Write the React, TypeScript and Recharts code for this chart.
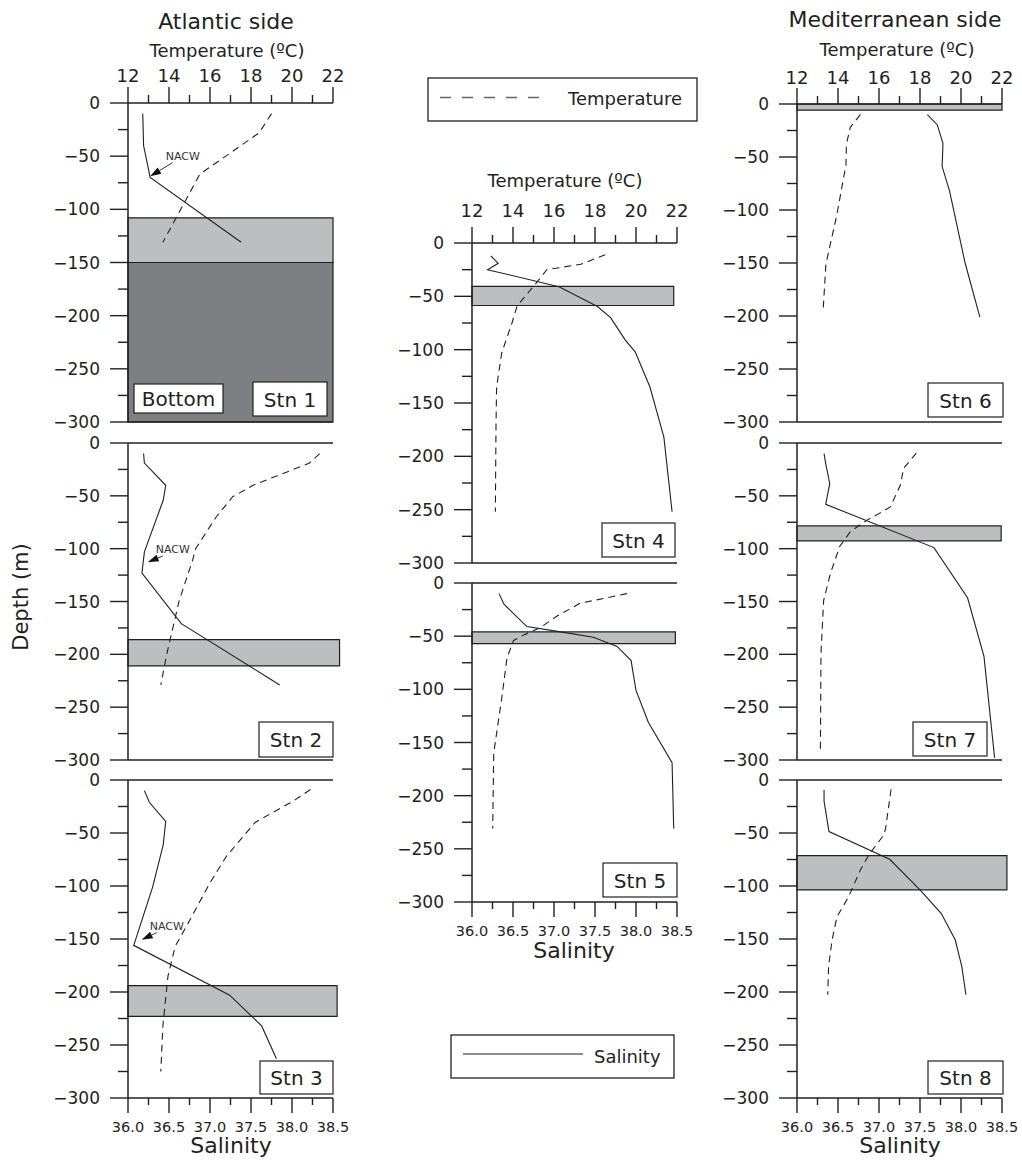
import React from 'react';
import { ScatterChart, Scatter, XAxis, YAxis, ReferenceArea, ReferenceLine } from 'recharts';

const FONT = '"DejaVu Sans", Arial, sans-serif';
const INK = '#231f20';
const LIGHT = '#bdbec0';
const DARK = '#7e7f82';

const DEPTH_TICKS = [0, -25, -50, -75, -100, -125, -150, -175, -200, -225, -250, -275, -300];
const TEMP_TICKS = [12, 13, 14, 15, 16, 17, 18, 19, 20, 21, 22];
const SAL_TICKS = [36, 36.25, 36.5, 36.75, 37, 37.25, 37.5, 37.75, 38, 38.25, 38.5];

// Atlantic side
const STN1_TEMP = [{ t: 19.0, d: -10 }, { t: 18.4, d: -28 }, { t: 15.5, d: -67 }, { t: 13.7, d: -131 }];
const STN1_SAL = [{ s: 36.18, d: -10 }, { s: 36.19, d: -40 }, { s: 36.27, d: -70 }, { s: 37.38, d: -131 }];
const STN1_BANDS = [
  { top: -108, bottom: -150, right: 38.5, tone: 'light' },
  { top: -150, bottom: -300, right: 38.5, tone: 'dark' },
];
const STN1_NACW = { from: { s: 36.545, d: -56 }, to: { s: 36.27, d: -69 } };

const STN2_TEMP = [
  { t: 21.35, d: -10 }, { t: 20.85, d: -19 }, { t: 18.1, d: -40 }, { t: 17.1, d: -51 }, { t: 16.3, d: -70 },
  { t: 15.3, d: -100 }, { t: 15.15, d: -111 }, { t: 14.5, d: -149 }, { t: 13.9, d: -199 }, { t: 13.6, d: -229 },
];
const STN2_SAL = [
  { s: 36.19, d: -10 }, { s: 36.2, d: -19 }, { s: 36.46, d: -40 }, { s: 36.43, d: -54 }, { s: 36.2, d: -103 },
  { s: 36.17, d: -123 }, { s: 36.65, d: -171 }, { s: 37.85, d: -229 },
];
const STN2_BANDS = [{ top: -186, bottom: -211, right: 38.58, tone: 'light' }];
const STN2_NACW = { from: { s: 36.423, d: -107 }, to: { s: 36.24, d: -112.8 } };

const STN3_TEMP = [
  { t: 20.9, d: -9 }, { t: 20.05, d: -20 }, { t: 18.2, d: -40 }, { t: 16.8, d: -72 }, { t: 16.0, d: -97 },
  { t: 14.85, d: -138 }, { t: 14.3, d: -157 }, { t: 13.95, d: -185 }, { t: 13.7, d: -232 }, { t: 13.6, d: -275 },
];
const STN3_SAL = [
  { s: 36.2, d: -10 }, { s: 36.26, d: -21 }, { s: 36.46, d: -39 }, { s: 36.43, d: -61 }, { s: 36.3, d: -101 },
  { s: 36.07, d: -156 }, { s: 37.24, d: -203 }, { s: 37.63, d: -232 }, { s: 37.81, d: -263 },
];
const STN3_BANDS = [{ top: -194, bottom: -223, right: 38.55, tone: 'light' }];
const STN3_NACW = { from: { s: 36.35, d: -144 }, to: { s: 36.167, d: -150.8 } };

// Strait
const STN4_TEMP = [
  { t: 18.5, d: -11 }, { t: 17.3, d: -20 }, { t: 15.65, d: -25 }, { t: 15.2, d: -36 }, { t: 14.2, d: -59 },
  { t: 13.95, d: -75 }, { t: 13.45, d: -103 }, { t: 13.2, d: -135 }, { t: 13.17, d: -172 }, { t: 13.14, d: -252 },
];
const STN4_SAL = [
  { s: 36.23, d: -12 }, { s: 36.32, d: -19 }, { s: 36.19, d: -25 }, { s: 37.06, d: -41 }, { s: 37.53, d: -59.5 },
  { s: 37.69, d: -70 }, { s: 37.87, d: -91 }, { s: 37.99, d: -102 }, { s: 38.17, d: -135 }, { s: 38.34, d: -182 },
  { s: 38.44, d: -252 },
];
const STN4_BANDS = [{ top: -40.7, bottom: -58.6, right: 38.46, tone: 'light' }];

const STN5_TEMP = [
  { t: 19.56, d: -10 }, { t: 17.28, d: -19 }, { t: 16.15, d: -31 }, { t: 15.33, d: -42 }, { t: 14.52, d: -49 },
  { t: 14.03, d: -54 }, { t: 13.71, d: -70 }, { t: 13.46, d: -107 }, { t: 13.06, d: -160 }, { t: 13.01, d: -231 },
];
const STN5_SAL = [
  { s: 36.33, d: -10 }, { s: 36.39, d: -20 }, { s: 36.67, d: -41 }, { s: 37.08, d: -46 }, { s: 37.48, d: -51 },
  { s: 37.77, d: -59.6 }, { s: 37.94, d: -73 }, { s: 38.0, d: -101 }, { s: 38.15, d: -131 }, { s: 38.44, d: -169 },
  { s: 38.46, d: -231 },
];
const STN5_BANDS = [{ top: -46, bottom: -57, right: 38.48, tone: 'light' }];

// Mediterranean side
const STN6_TEMP = [
  { t: 15.09, d: -10 }, { t: 14.6, d: -22 }, { t: 14.41, d: -38 }, { t: 14.39, d: -57 }, { t: 13.95, d: -104 },
  { t: 13.41, d: -151 }, { t: 13.27, d: -196 },
];
const STN6_SAL = [
  { s: 37.59, d: -10 }, { s: 37.71, d: -19.5 }, { s: 37.78, d: -37 }, { s: 37.77, d: -59 }, { s: 37.86, d: -82 },
  { s: 38.05, d: -150 }, { s: 38.23, d: -201 },
];
const STN6_BANDS = [{ top: 0, bottom: -5.7, right: 38.5, tone: 'light' }];

const STN7_TEMP = [
  { t: 17.82, d: -9.5 }, { t: 17.2, d: -24 }, { t: 17.04, d: -40 }, { t: 16.55, d: -60.5 }, { t: 15.9, d: -68 },
  { t: 15.41, d: -73 }, { t: 14.6, d: -84 }, { t: 14.08, d: -98 }, { t: 13.63, d: -123.5 }, { t: 13.3, d: -149 },
  { t: 13.17, d: -199 }, { t: 13.14, d: -294 },
];
const STN7_SAL = [
  { s: 36.33, d: -10 }, { s: 36.35, d: -19.5 }, { s: 36.4, d: -38.5 }, { s: 36.38, d: -46 }, { s: 36.35, d: -58 },
  { s: 37.67, d: -99 }, { s: 38.08, d: -146.5 }, { s: 38.28, d: -202 }, { s: 38.41, d: -298 },
];
const STN7_BANDS = [{ top: -78.5, bottom: -92.7, right: 38.49, tone: 'light' }];

const STN8_TEMP = [
  { t: 16.59, d: -8.8 }, { t: 16.31, d: -47 }, { t: 16.15, d: -54 }, { t: 15.5, d: -70.7 }, { t: 15.09, d: -85 },
  { t: 14.52, d: -110 }, { t: 13.95, d: -129 }, { t: 13.71, d: -151 }, { t: 13.54, d: -176 }, { t: 13.5, d: -202.6 },
];
const STN8_SAL = [
  { s: 36.33, d: -9.4 }, { s: 36.33, d: -20 }, { s: 36.39, d: -48.7 }, { s: 37.13, d: -74.8 }, { s: 37.5, d: -103.7 },
  { s: 37.76, d: -126 }, { s: 37.93, d: -151 }, { s: 38.01, d: -176 }, { s: 38.06, d: -202.6 },
];
const STN8_BANDS = [{ top: -71.3, bottom: -103.7, right: 38.56, tone: 'light' }];

const PLOT_W = 205;

// layout of the eight panels (page pixels)
const PANELS = [
  { name: 'Stn 1', left: 128, top: 103, h: 319, temp: STN1_TEMP, sal: STN1_SAL, bands: STN1_BANDS, nacw: STN1_NACW, showTemp: true, tempGap: 21, box: { x: 253, y: 382, w: 74, h: 34 } },
  { name: 'Stn 2', left: 128, top: 443, h: 317, temp: STN2_TEMP, sal: STN2_SAL, bands: STN2_BANDS, nacw: STN2_NACW, box: { x: 259, y: 722, w: 74, h: 35 } },
  { name: 'Stn 3', left: 128, top: 780, h: 318, temp: STN3_TEMP, sal: STN3_SAL, bands: STN3_BANDS, nacw: STN3_NACW, showSal: true, box: { x: 260, y: 1061, w: 73, h: 33 } },
  { name: 'Stn 4', left: 472, top: 243, h: 320, temp: STN4_TEMP, sal: STN4_SAL, bands: STN4_BANDS, showTemp: true, tempGap: 26, box: { x: 602, y: 523, w: 73, h: 34 } },
  { name: 'Stn 5', left: 472, top: 583, h: 319, temp: STN5_TEMP, sal: STN5_SAL, bands: STN5_BANDS, showSal: true, box: { x: 603, y: 863, w: 74, h: 34 } },
  { name: 'Stn 6', left: 797, top: 104, h: 318, temp: STN6_TEMP, sal: STN6_SAL, bands: STN6_BANDS, showTemp: true, tempGap: 20, box: { x: 928, y: 383, w: 75, h: 34 } },
  { name: 'Stn 7', left: 797, top: 443, h: 317, temp: STN7_TEMP, sal: STN7_SAL, bands: STN7_BANDS, box: { x: 913, y: 722, w: 74, h: 34 } },
  { name: 'Stn 8', left: 797, top: 780, h: 318, temp: STN8_TEMP, sal: STN8_SAL, bands: STN8_BANDS, showSal: true, box: { x: 928, y: 1061, w: 75, h: 33 } },
];

const fmtDepth = (v: number) => (v === 0 ? '0' : '\u2212' + Math.abs(v));

const DepthTick = (p: any) => {
  const { x, y, payload } = p;
  const major = payload.value % 50 === 0;
  return (
    <g>
      <line x1={x - (major ? 18 : 10)} x2={x} y1={y} y2={y} stroke={INK} strokeWidth={1.4} />
      {major && (
        <text x={x - 28} y={y + 6} textAnchor="end" fontSize={17} fontFamily={FONT} fill={INK}>
          {fmtDepth(payload.value)}
        </text>
      )}
    </g>
  );
};

const makeTempTick = (gap: number) => (p: any) => {
  const { x, y, payload } = p;
  const major = payload.value % 2 === 0;
  return (
    <g>
      <line x1={x} x2={x} y1={y - (major ? 16 : 8)} y2={y} stroke={INK} strokeWidth={1.4} />
      {major && (
        <text x={x} y={y - gap} textAnchor="middle" fontSize={18} fontFamily={FONT} fill={INK}>
          {payload.value}
        </text>
      )}
    </g>
  );
};

const SalTick = (p: any) => {
  const { x, y, payload } = p;
  const v = payload.value;
  const major = Math.abs(v * 2 - Math.round(v * 2)) < 1e-6;
  return (
    <g>
      <line x1={x} x2={x} y1={y} y2={y + (major ? 15 : 7)} stroke={INK} strokeWidth={1.4} />
      {major && (
        <text x={x} y={y + 34} textAnchor="middle" fontSize={14.5} fontFamily={FONT} fill={INK}>
          {v.toFixed(1)}
        </text>
      )}
    </g>
  );
};

const NacwArrow = (p: any) => {
  const { x1, y1, x2, y2 } = p;
  const ang = Math.atan2(y2 - y1, x2 - x1);
  const L = 11;
  const W = 3.6;
  const bx = x2 - L * Math.cos(ang);
  const by = y2 - L * Math.sin(ang);
  const px = -Math.sin(ang) * W;
  const py = Math.cos(ang) * W;
  return (
    <g>
      <line x1={x1} y1={y1} x2={bx} y2={by} stroke="#333" strokeWidth={1} />
      <polygon points={`${x2},${y2} ${bx + px},${by + py} ${bx - px},${by - py}`} fill="#111" />
      <text x={x1 - 7} y={y1 - 3} fontSize={11} fontFamily={FONT} fill="#333">NACW</text>
    </g>
  );
};

const noDot = () => <g />;

const Panel = ({ p }: { p: any }) => {
  const axisLine = { stroke: INK, strokeWidth: 1.5 };
  return (
    <div style={{ position: 'absolute', left: p.left - 80, top: p.top - 60 }}>
      <ScatterChart width={80 + PLOT_W + 25} height={p.h + 120} margin={{ top: 0, right: 25, bottom: 0, left: 0 }}>
        <XAxis
          xAxisId="t" type="number" dataKey="t" orientation="top" domain={[12, 22]} ticks={TEMP_TICKS}
          interval={0} height={60} axisLine={axisLine} tickLine={false} tickSize={0} tickMargin={0}
          tick={p.showTemp ? makeTempTick(p.tempGap) : false}
        />
        <XAxis
          xAxisId="s" type="number" dataKey="s" orientation="bottom" domain={[36, 38.5]} ticks={SAL_TICKS}
          interval={0} height={60} axisLine={axisLine} tickLine={false} tickSize={0} tickMargin={0}
          tick={p.showSal ? SalTick : false}
        />
        <YAxis
          type="number" dataKey="d" domain={[-300, 0]} ticks={DEPTH_TICKS} interval={0} width={80}
          axisLine={axisLine} tickLine={false} tickSize={0} tickMargin={0} tick={DepthTick}
        />
        {p.bands.map((b: any, i: number) => (
          <ReferenceArea
            key={i} xAxisId="s" x1={36} x2={b.right} y1={b.top} y2={b.bottom}
            fill={b.tone === 'dark' ? DARK : LIGHT} fillOpacity={1} stroke={INK} strokeWidth={1.2}
            ifOverflow="visible"
          />
        ))}
        <Scatter
          xAxisId="t" data={p.temp} shape={noDot} isAnimationActive={false}
          line={{ stroke: INK, strokeWidth: 1.1, strokeDasharray: '7 5' }}
        />
        <Scatter
          xAxisId="s" data={p.sal} shape={noDot} isAnimationActive={false}
          line={{ stroke: INK, strokeWidth: 1.1 }}
        />
        {p.nacw && (
          <ReferenceLine
            xAxisId="s"
            segment={[{ x: p.nacw.from.s, y: p.nacw.from.d }, { x: p.nacw.to.s, y: p.nacw.to.d }]}
            shape={NacwArrow}
          />
        )}
      </ScatterChart>
    </div>
  );
};

const txt = { fontFamily: FONT, fill: INK };

const App: React.FC = () => (
  <div style={{ position: 'absolute', left: 0, top: 0, width: 1022, height: 1163, background: '#fff' }}>
    {PANELS.map((p) => (
      <Panel key={p.name} p={p} />
    ))}
    <svg width={1022} height={1163} style={{ position: 'absolute', left: 0, top: 0, pointerEvents: 'none' }}>
      <text x={226} y={29} fontSize={22} textAnchor="middle" {...txt}>Atlantic side</text>
      <text x={895} y={27} fontSize={22} textAnchor="middle" {...txt}>Mediterranean side</text>
      <text x={227} y={57} fontSize={18} textAnchor="middle" {...txt}>Temperature (ºC)</text>
      <text x={565} y={187} fontSize={18} textAnchor="middle" {...txt}>Temperature (ºC)</text>
      <text x={897} y={56} fontSize={18} textAnchor="middle" {...txt}>Temperature (ºC)</text>
      <text x={231} y={1153} fontSize={22} textAnchor="middle" {...txt}>Salinity</text>
      <text x={574} y={958} fontSize={22} textAnchor="middle" {...txt}>Salinity</text>
      <text x={900} y={1153} fontSize={22} textAnchor="middle" {...txt}>Salinity</text>
      <text transform="translate(28,597) rotate(-90)" fontSize={21} textAnchor="middle" {...txt}>Depth (m)</text>

      <rect x={428} y={78} width={269} height={43} fill="#fff" stroke={INK} strokeWidth={1.3} />
      <line x1={440} x2={550} y1={97.5} y2={97.5} stroke="#666" strokeWidth={1.5} strokeDasharray="11 11" />
      <text x={568} y={105} fontSize={18} {...txt}>Temperature</text>

      <rect x={451} y={1035} width={223} height={43} fill="#fff" stroke={INK} strokeWidth={1.3} />
      <line x1={463} x2={583} y1={1054} y2={1054} stroke="#666" strokeWidth={1.5} />
      <text x={594} y={1063} fontSize={18} {...txt}>Salinity</text>

      <rect x={134} y={384} width={89} height={29} fill="#fff" stroke={INK} strokeWidth={1.2} />
      <text x={178.5} y={405.5} fontSize={20} textAnchor="middle" {...txt}>Bottom</text>

      {PANELS.map((p) => (
        <g key={p.name}>
          <rect x={p.box.x} y={p.box.y} width={p.box.w} height={p.box.h} fill="#fff" stroke={INK} strokeWidth={1.2} />
          <text x={p.box.x + p.box.w / 2} y={p.box.y + p.box.h / 2 + 7.5} fontSize={20} textAnchor="middle" {...txt}>
            {p.name}
          </text>
        </g>
      ))}
    </svg>
  </div>
);

export default App;
